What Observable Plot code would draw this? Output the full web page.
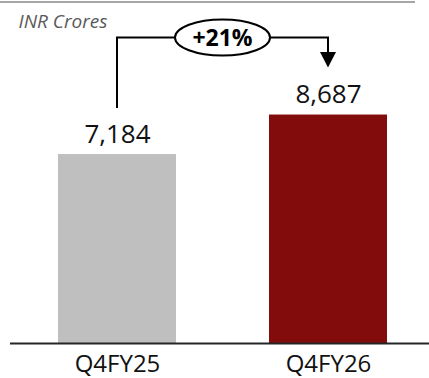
<!DOCTYPE html>
<html>
<head>
<meta charset="utf-8">
<script src="https://cdn.jsdelivr.net/npm/d3@7"></script>
<script src="https://cdn.jsdelivr.net/npm/@observablehq/plot@0.6"></script>
<style>
  html, body { margin: 0; padding: 0; background: #fff; }
  #wrap { position: relative; width: 429px; height: 378px; overflow: hidden; }
  #wrap svg { position: absolute; left: 0; top: 0; }
  #topline { position: absolute; left: 0; top: 1px; width: 415px; height: 2px; background: #a6a6a6; z-index: 2; }
</style>
</head>
<body>
<div id="wrap"><div id="topline"></div></div>
<script>
const categories = ["Q4FY25", "Q4FY26"];
const revenue = [7184, 8687];
const barColors = ["#bfbfbf", "#820b0b"];
const unitLabel = "INR Crores";

const data = categories.map((c, i) => ({cat: c, value: revenue[i], color: barColors[i]}));
const growth = revenue[1] / revenue[0] - 1;
const growthLabel = (growth >= 0 ? "+" : "") + Math.round(growth * 100) + "%";
const fmt = d3.format(",");

// Growth bracket annotation drawn from the plot's own scales
function annotation(index, scales) {
  const x = scales.x, y = scales.y;
  const bw = x.bandwidth ? x.bandwidth() : 0;
  const x0 = x(categories[0]) + bw / 2;
  const x1 = x(categories[1]) + bw / 2;
  const top0 = y(revenue[0]), top1 = y(revenue[1]);
  const level = Math.min(top0, top1) - 77;
  const start = top0 - 46;
  const tip = top1 - 47;
  const headH = 15.5, headW = 8;
  const cx = (x0 + x1) / 2, rx = 47.5, ry = 18;
  const g = d3.create("svg:g");
  g.append("path")
    .attr("d", `M${x0},${start}V${level}H${x1}V${tip - headH + 1}`)
    .attr("fill", "none").attr("stroke", "#000").attr("stroke-width", 2);
  g.append("path")
    .attr("d", `M${x1 - headW},${tip - headH}L${x1 + headW},${tip - headH}L${x1},${tip}Z`)
    .attr("fill", "#000");
  g.append("ellipse")
    .attr("cx", cx).attr("cy", level).attr("rx", rx).attr("ry", ry)
    .attr("fill", "#fff").attr("stroke", "#000").attr("stroke-width", 2);
  g.append("text")
    .attr("x", cx).attr("y", level).attr("dy", "0.35em")
    .attr("text-anchor", "middle")
    .attr("font-family", "'Open Sans', sans-serif")
    .attr("font-weight", "bold").attr("font-size", 23).attr("fill", "#000")
    .text(growthLabel);
  return g.node();
}

const chart = Plot.plot({
  width: 429,
  height: 378,
  marginTop: 80,
  marginBottom: 35,
  marginLeft: 10,
  marginRight: 0,
  style: {fontFamily: "'Open Sans', sans-serif", background: "transparent", overflow: "visible"},
  x: {domain: categories, paddingInner: 0.443, paddingOuter: 0.21, align: 0.53, axis: null},
  y: {domain: [0, 10000], axis: null},
  color: {type: "identity"},
  marks: [
    Plot.barY(data, {x: "cat", y: "value", fill: "color"}),
    Plot.ruleY([0], {stroke: "#262626", strokeWidth: 2}),
    Plot.text(data, {x: "cat", y: "value", text: d => fmt(d.value), dy: -12, lineAnchor: "bottom", fontSize: 26, fill: "#111"}),
    Plot.text(data, {x: "cat", y: 0, text: "cat", dy: 28.5, lineAnchor: "bottom", fontSize: 24, fill: "#111"}),
    Plot.text([unitLabel], {frameAnchor: "top-left", text: d => d, dx: 8, dy: -53, lineAnchor: "bottom", textAnchor: "start", fontStyle: "italic", fontSize: 19, fill: "#595959"}),
    annotation
  ]
});
document.getElementById("wrap").appendChild(chart);
</script>
</body>
</html>
